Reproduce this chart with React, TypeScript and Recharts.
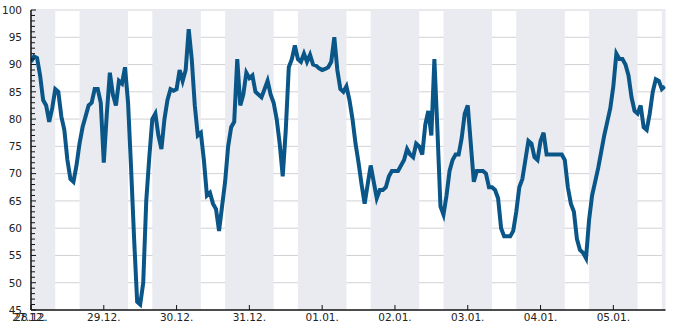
import React from 'react';
import { LineChart, Line, XAxis, YAxis, CartesianGrid, ReferenceArea } from 'recharts';

// hourly readings, one array per day (starting 28.12. 00:00)
const dec28 = [90.5, 91.5, 91.2, 88, 83.5, 82.5, 79.5, 82, 85.5, 85, 80.5, 78, 72.5, 69, 68.5, 71.5, 75.5, 78.5, 80.5, 82.5, 83, 85.5, 85.5, 83];
const dec29 = [72, 81, 88.5, 84.5, 82.5, 87, 86.5, 89.5, 83, 71, 58, 46.5, 46, 50, 65, 73, 80, 81, 77, 74.5, 80, 83.5, 85.5, 85.2];
const dec30 = [85.5, 89, 87, 89, 96.5, 91, 82.5, 77, 77.5, 72.5, 66, 66.5, 64.5, 63.5, 59.5, 64, 68.5, 75, 78.5, 79.5, 91, 82.5, 84.5, 88.5];
const dec31 = [87.5, 88, 85, 84.5, 84, 85.5, 87, 84.5, 83, 80, 75.5, 69.5, 78, 89.5, 91, 93.5, 91, 90.5, 92, 90.5, 91.8, 90, 89.8, 89.3];
const jan01 = [89, 89.2, 89.5, 90.5, 95, 89, 85.5, 85, 86, 83.5, 80, 75.5, 72, 68, 64.5, 68, 71.5, 68.5, 65.5, 67, 67, 67.5, 69.5, 70.5];
const jan02 = [70.5, 70.5, 71.5, 72.5, 74.5, 73.5, 73, 75.5, 75, 73.5, 79, 81.5, 77, 91, 78, 64, 62.5, 66, 70.5, 72.5, 73.5, 73.5, 76.5, 81];
const jan03 = [82.5, 75.5, 68.5, 70.5, 70.5, 70.5, 70, 67.5, 67.5, 67, 65.5, 60, 58.5, 58.5, 58.5, 59.5, 63, 67.5, 69, 72.5, 76, 75.5, 73, 72.5];
const jan04 = [76, 77.5, 73.5, 73.5, 73.5, 73.5, 73.5, 73.5, 72.5, 67.5, 64.5, 63, 58, 56, 55.5, 54.5, 61.5, 66, 68.5, 71, 74, 77, 79.5, 82];
const jan05 = [86, 92, 91, 91, 90, 88, 84, 81.5, 81, 82.5, 78.5, 78, 81, 85, 87.3, 87, 85.5, 86];

const dayLabels = ['28.12.', '29.12.', '30.12.', '31.12.', '01.01.', '02.01.', '03.01.', '04.01.', '05.01.'];
const firstLabel = '27.12.';

const days = [dec28, dec29, dec30, dec31, jan01, jan02, jan03, jan04, jan05];
const data = days.flatMap((vals, d) => vals.map((v, i) => ({ hour: d * 24 + i, value: v })));

const X_END = 209.2;
const xTicks = dayLabels.map((_, i) => i * 24);
const yTicks = Array.from({ length: 56 }, (_, i) => 45 + i);
const yGrid = [50, 55, 60, 65, 70, 75, 80, 85, 90, 95, 100];

// shaded night bands 16:00 - 08:00
const bands = Array.from({ length: 10 }, (_, k) => [Math.max(0, k * 24 - 8), Math.min(X_END, k * 24 + 8)]);

const FONT = '"DejaVu Sans", sans-serif';

const YTick = (props: any) => {
  const { x, y, payload } = props;
  const v = payload.value;
  const axisX = x + 9;
  const major = v % 5 === 0;
  return (
    <g>
      <line x1={axisX} x2={axisX + (major ? 5 : 4)} y1={y} y2={y} stroke="#111" strokeWidth={1} />
      {major && (
        <text x={x} y={y} dy="0.36em" textAnchor="end" fontFamily={FONT} fontSize={10.5} fill="#222">
          {v}
        </text>
      )}
    </g>
  );
};

const XTick = (props: any) => {
  const { x, y, payload, index } = props;
  const axisY = y - 4;
  return (
    <g>
      <line x1={x} x2={x} y1={axisY} y2={axisY - 5} stroke="#111" strokeWidth={1} />
      {index === 0 && (
        <text x={x - 2} y={y} dy="0.71em" textAnchor="middle" fontFamily={FONT} fontSize={10.5} fill="#222">
          {firstLabel}
        </text>
      )}
      <text x={x} y={y} dy="0.71em" textAnchor="middle" fontFamily={FONT} fontSize={10.5} fill="#222">
        {dayLabels[index]}
      </text>
    </g>
  );
};

export default function App() {
  return (
    <div style={{ position: 'absolute', left: 0, top: 0, background: '#fff' }}>
      <LineChart width={685} height={330} data={data} margin={{ top: 10, right: 19.5, bottom: 0, left: 0 }}>
        {bands.map(([a, b], i) => (
          <ReferenceArea key={i} x1={a} x2={b} fill="#eaebf0" fillOpacity={1} stroke="none" />
        ))}
        <CartesianGrid stroke="#d2d2d6" strokeWidth={1} horizontalValues={yGrid} verticalValues={xTicks} />
        <XAxis
          type="number"
          dataKey="hour"
          domain={[0, X_END]}
          allowDataOverflow
          ticks={xTicks}
          interval={0}
          height={20}
          tickSize={0}
          tickMargin={4}
          tickLine={false}
          axisLine={{ stroke: '#111', strokeWidth: 1.5 }}
          tick={<XTick />}
        />
        <YAxis
          type="number"
          domain={[45, 100]}
          allowDataOverflow
          ticks={yTicks}
          interval={0}
          width={31}
          tickSize={0}
          tickMargin={9}
          tickLine={false}
          axisLine={{ stroke: '#111', strokeWidth: 1.5 }}
          tick={<YTick />}
        />
        <Line
          type="linear"
          dataKey="value"
          stroke="#0a5688"
          strokeWidth={4}
          dot={false}
          isAnimationActive={false}
        />
      </LineChart>
    </div>
  );
}
